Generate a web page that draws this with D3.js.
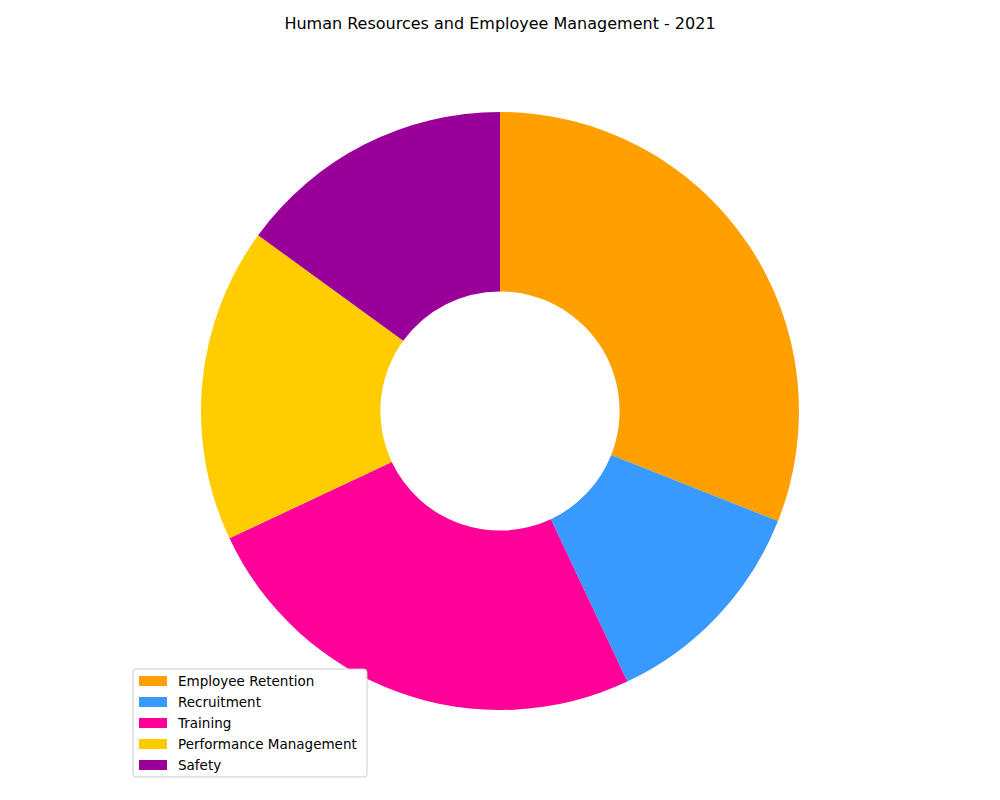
<!DOCTYPE html>
<html><head><meta charset="utf-8">
<script src="https://cdn.jsdelivr.net/npm/d3@7"></script>
<style>body{margin:0;background:#fff}</style>
</head><body>
<script>
var categories = ["Employee Retention", "Recruitment", "Training", "Performance Management", "Safety"];
var values = [31, 12, 25, 17, 15];
var colors = ["#FFA000", "#3899FF", "#FF0099", "#FFCC00", "#990099"];

var width = 1000, height = 800;
var cx = 500, cy = 411, radius = 299;

var svg = d3.select("body").append("svg")
    .attr("width", width).attr("height", height)
    .style("font-family", "DejaVu Sans");

svg.append("text")
    .attr("x", width / 2).attr("y", 29)
    .attr("text-anchor", "middle")
    .style("font-size", "16px")
    .text("Human Resources and Employee Management - 2021");

var pie = d3.pie().sort(null).value(function(d) { return d; });
var arc = d3.arc().outerRadius(radius).innerRadius(radius * 0.4);

var g = svg.append("g").attr("transform", "translate(" + cx + "," + cy + ")");
g.selectAll("path")
    .data(pie(values))
  .enter().append("path")
    .attr("d", arc)
    .style("fill", function(d, i) { return colors[i]; });

var legend = svg.append("g").attr("transform", "translate(133,669)");
legend.append("rect")
    .attr("width", 234).attr("height", 108).attr("rx", 3)
    .style("fill", "#fff").style("stroke", "#ccc");
var item = legend.selectAll(".item")
    .data(categories)
  .enter().append("g")
    .attr("transform", function(d, i) { return "translate(6," + (7 + i * 21) + ")"; });
item.append("rect")
    .attr("width", 28).attr("height", 10)
    .style("fill", function(d, i) { return colors[i]; });
item.append("text")
    .attr("x", 39).attr("y", 10)
    .style("font-size", "13.5px")
    .text(function(d) { return d; });
</script>
</body></html>
